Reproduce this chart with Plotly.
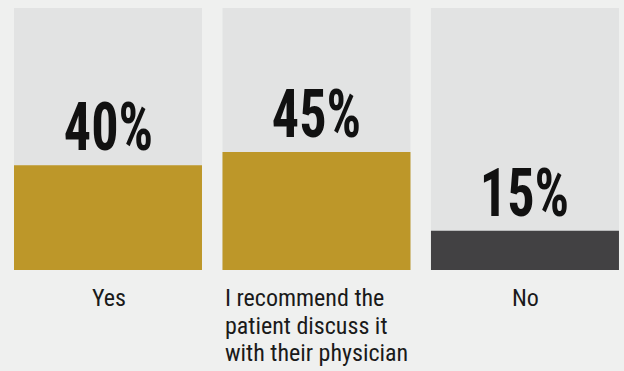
import plotly.graph_objects as go

# Survey answers and the share of respondents for each
categories = [
    ["Yes"],
    ["I recommend the", "patient discuss it", "with their physician"],
    ["No"],
]
values = [40, 45, 15]
value_labels = ["40%", "45%", "15%"]
bar_colors = ["#bd9729", "#bd9729", "#424143"]
full_scale = [100, 100, 100]

x_pos = list(range(len(categories)))
bar_width = 0.9017

fig = go.Figure()

# Light panel behind each column representing 100%
fig.add_trace(go.Bar(
    x=x_pos, y=full_scale, width=bar_width,
    marker=dict(color="#e2e3e3", line=dict(width=0)),
    hoverinfo="skip", showlegend=False,
))

# Actual share, filled from the bottom
fig.add_trace(go.Bar(
    x=x_pos, y=values, width=bar_width,
    marker=dict(color=bar_colors, line=dict(width=0)),
    hoverinfo="skip", showlegend=False,
))

big_font = "Roboto Condensed, Liberation Sans Narrow, DejaVu Sans Condensed, sans-serif"
small_font = "Roboto Condensed, Liberation Sans Narrow, Roboto, sans-serif"

annotations = []
for i, (v, lab) in enumerate(zip(values, value_labels)):
    annotations.append(dict(
        x=i, y=v, xref="x", yref="y", text="<b>" + lab + "</b>",
        showarrow=False, xanchor="center", yanchor="bottom", yshift=-3,
        font=dict(family=big_font, size=66, color="#111111"),
    ))

# Category captions: one annotation per line for tighter leading;
# multi-line captions are left-aligned to the column edge
line_step = 27.5
for i, lines in enumerate(categories):
    multi = len(lines) > 1
    for k, line in enumerate(lines):
        annotations.append(dict(
            x=(i - bar_width / 2) if multi else i, y=0, xref="x", yref="y",
            text=line, showarrow=False,
            xanchor="left" if multi else "center", xshift=1 if multi else 1,
            yanchor="top", yshift=-12 - k * line_step,
            font=dict(family=small_font, size=24, color="#1a1a1a"),
        ))

fig.update_layout(
    width=624, height=371,
    margin=dict(l=0, r=0, t=8, b=101),
    paper_bgcolor="#eff0ef", plot_bgcolor="#eff0ef",
    barmode="overlay",
    xaxis=dict(range=[-0.518, 2.475], visible=False, fixedrange=True),
    yaxis=dict(range=[0, 100], visible=False, fixedrange=True),
    annotations=annotations,
)

# Narrow the big percentage figures horizontally to a compressed display face
post = """
var gd = document.getElementById('{plot_id}');
gd.querySelectorAll('text.annotation-text').forEach(function (t) {
  if (t.textContent.indexOf('%') >= 0) {
    var w = t.getComputedTextLength();
    t.setAttribute('lengthAdjust', 'spacingAndGlyphs');
    t.setAttribute('textLength', (w * 0.82).toFixed(1));
  }
});
"""

fig.write_html("out.html", post_script=post)
